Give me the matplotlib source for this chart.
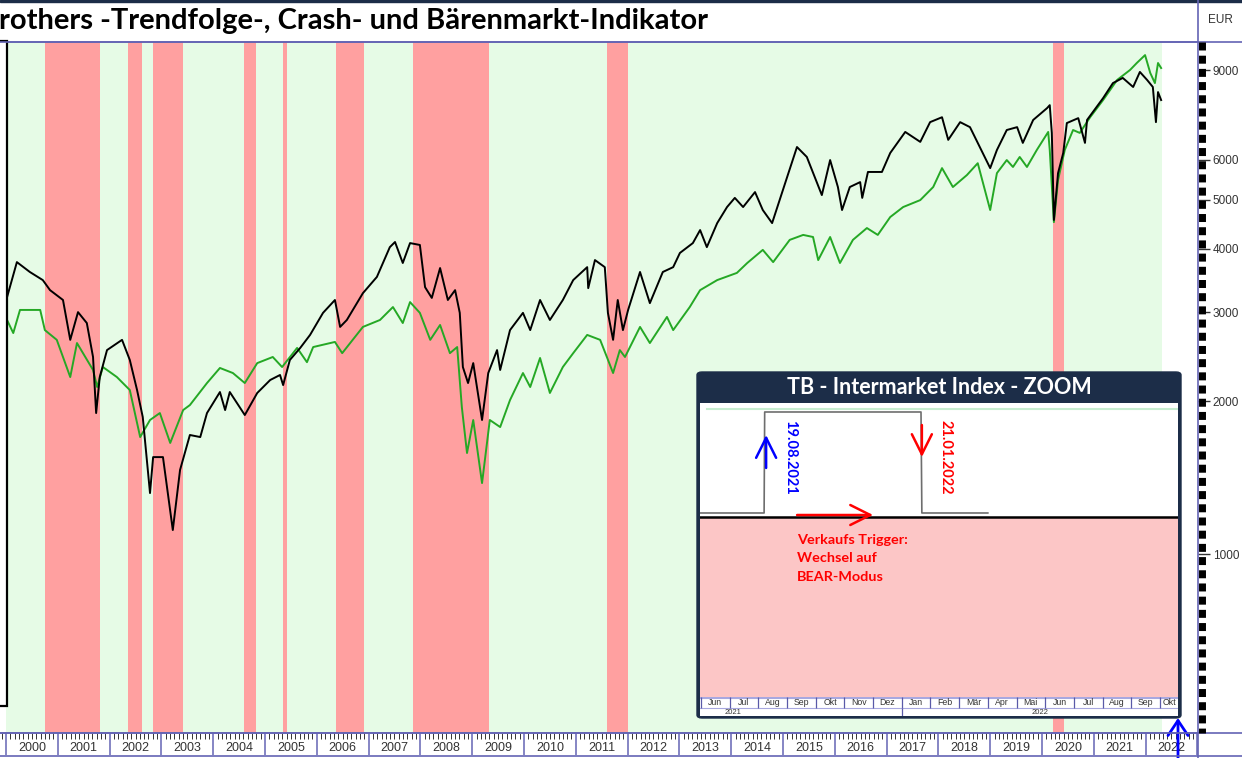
#!/usr/bin/env python3
"""
Trendfolge-/Crash-/Baerenmarkt-Indikator mit ZOOM-Fenster nachbauen
"""

import matplotlib
matplotlib.use('Agg')
import matplotlib.pyplot as plt
import matplotlib.ticker as mticker
import matplotlib.transforms as mtransforms
from matplotlib.patches import Rectangle, FancyBboxPatch
from matplotlib.lines import Line2D

# --- Hauptchart: Index (schwarz) und Vergleichsindex (gruen), EUR, log ---
black_t = [2000.02, 2000.21, 2000.46, 2000.71, 2000.85, 2001.10, 2001.24, 2001.39, 2001.56, 2001.68,
           2001.74, 2001.81, 2001.95, 2002.24, 2002.39, 2002.53, 2002.64, 2002.78, 2002.84, 2003.03,
           2003.22, 2003.36, 2003.55, 2003.75, 2003.88, 2004.13, 2004.23, 2004.32, 2004.61, 2004.85,
           2005.10, 2005.29, 2005.35, 2005.48, 2005.68, 2005.87, 2006.12, 2006.35, 2006.45, 2006.58,
           2006.89, 2007.16, 2007.41, 2007.51, 2007.66, 2007.80, 2007.99, 2008.09, 2008.22, 2008.38,
           2008.53, 2008.67, 2008.76, 2008.82, 2008.92, 2009.02, 2009.19, 2009.31, 2009.48, 2009.54,
           2009.73, 2009.98, 2010.12, 2010.31, 2010.50, 2010.75, 2010.95, 2011.22, 2011.24, 2011.37,
           2011.56, 2011.62, 2011.72, 2011.81, 2011.91, 2012.01, 2012.24, 2012.43, 2012.68, 2012.88,
           2013.01, 2013.26, 2013.40, 2013.53, 2013.73, 2013.92, 2014.07, 2014.23, 2014.46, 2014.61,
           2014.79, 2014.98, 2015.08, 2015.27, 2015.46, 2015.66, 2015.75, 2015.91, 2016.06, 2016.14,
           2016.29, 2016.49, 2016.53, 2016.64, 2016.91, 2017.07, 2017.36, 2017.65, 2017.84, 2018.07,
           2018.19, 2018.42, 2018.61, 2018.80, 2019.00, 2019.13, 2019.32, 2019.52, 2019.63, 2019.83,
           2020.10, 2020.15, 2020.19, 2020.23, 2020.31, 2020.41, 2020.48, 2020.70, 2020.83, 2020.87,
           2021.18, 2021.37, 2021.56, 2021.76, 2021.89, 2022.03, 2022.14, 2022.20, 2022.24, 2022.30]
black_v = [3210, 3765, 3600, 3470, 3315, 3170, 2645, 3000, 2855, 2447,
           1897, 2234, 2525, 2645, 2414, 2106, 1863, 1319, 1553, 1553,
           1115, 1465, 1717, 1701, 1897, 2087, 1923, 2087, 1880, 2078,
           2204, 2255, 2154, 2414, 2550, 2705, 2990, 3170, 2805, 2895,
           3270, 3520, 4030, 4125, 3750, 4105, 4070, 3360, 3200, 3665,
           3170, 3315, 2990, 2338, 2174, 2380, 1838, 2275, 2525, 2307,
           2765, 2990, 2765, 3170, 2895, 3170, 3470, 3680, 3345, 3800,
           3680, 2990, 2645, 3170, 2765, 3030, 3600, 3125, 3600, 3680,
           3925, 4105, 4355, 4030, 4495, 4835, 5040, 4835, 5175, 4770,
           4495, 5150, 5540, 6350, 6070, 5390, 5105, 5985, 5295, 4770,
           5295, 5415, 5040, 5670, 5670, 6180, 6800, 6500, 7110, 7270,
           6560, 7110, 6950, 6350, 5770, 6265, 6860, 6950, 6470, 7180,
           7580, 7680, 6770, 4560, 5640, 6180, 7080, 7240, 6470, 7180,
           7930, 8490, 8690, 8340, 8930, 8610, 8340, 7110, 8150, 7860]

green_t = [2000.02, 2000.14, 2000.27, 2000.66, 2000.75, 2000.98, 2001.24, 2001.37, 2001.68, 2001.76,
           2001.87, 2002.14, 2002.39, 2002.59, 2002.78, 2002.97, 2003.17, 2003.42, 2003.55, 2003.88,
           2004.13, 2004.38, 2004.61, 2004.85, 2005.15, 2005.33, 2005.62, 2005.81, 2005.93, 2006.35,
           2006.49, 2006.89, 2007.22, 2007.47, 2007.66, 2007.80, 2007.99, 2008.19, 2008.38, 2008.57,
           2008.71, 2008.80, 2008.90, 2009.02, 2009.19, 2009.34, 2009.54, 2009.73, 2009.98, 2010.12,
           2010.31, 2010.50, 2010.75, 2010.95, 2011.22, 2011.47, 2011.60, 2011.72, 2011.85, 2011.95,
           2012.24, 2012.43, 2012.76, 2012.88, 2013.20, 2013.40, 2013.73, 2014.11, 2014.31, 2014.61,
           2014.81, 2015.13, 2015.39, 2015.58, 2015.68, 2015.91, 2016.10, 2016.35, 2016.62, 2016.83,
           2017.07, 2017.32, 2017.65, 2017.90, 2018.07, 2018.28, 2018.55, 2018.76, 2019.00, 2019.13,
           2019.32, 2019.44, 2019.57, 2019.71, 2019.90, 2020.12, 2020.15, 2020.23, 2020.31, 2020.44,
           2020.60, 2020.73, 2020.93, 2021.18, 2021.45, 2021.70, 2021.83, 2021.99, 2022.09, 2022.18,
           2022.24, 2022.30]
green_v = [2895, 2728, 3030, 3030, 2765, 2645, 2234, 2607, 2307, 2135,
           2338, 2234, 2106, 1701, 1838, 1897, 1656, 1923, 1967, 2174,
           2328, 2275, 2174, 2380, 2447, 2338, 2550, 2390, 2560, 2620,
           2490, 2805, 2895, 3070, 2855, 3140, 2990, 2645, 2830, 2490,
           2560, 1949, 1582, 1838, 1380, 1838, 1780, 2012, 2275, 2135,
           2436, 2078, 2338, 2490, 2705, 2645, 2447, 2275, 2525, 2447,
           2805, 2607, 2935, 2765, 3070, 3315, 3470, 3585, 3750, 3980,
           3765, 4165, 4260, 4220, 3800, 4220, 3750, 4165, 4395, 4260,
           4620, 4835, 4990, 5295, 5770, 5295, 5590, 5900, 4770, 5640,
           5985, 5800, 6070, 5800, 6265, 6800, 6265, 4515, 5465, 6265,
           6860, 6770, 7270, 7860, 8610, 9010, 9300, 9640, 8890, 8490,
           9300, 9090]

# Baerenmarkt-Phasen (rot), sonst Trendfolge (gruen)
bear_start = [2000.75, 2002.36, 2002.84, 2004.59, 2005.35, 2006.37, 2007.86, 2011.60, 2020.21]
bear_end = [2001.81, 2002.63, 2003.42, 2004.83, 2005.42, 2006.91, 2009.32, 2012.01, 2020.42]
data_start, data_end = 2000.0, 2022.32

years = list(range(2000, 2023))
y_ticks = [1000, 2000, 3000, 4000, 5000, 6000, 9000]

# --- ZOOM: Intermarket Index (Monate ab Juni 2021) ---
inset_months = ['Jun', 'Jul', 'Aug', 'Sep', 'Okt', 'Nov', 'Dez', 'Jan', 'Feb',
                'Mär', 'Apr', 'Mai', 'Jun', 'Jul', 'Aug', 'Sep', 'Okt']
inset_years = ['2021', '2022']
signal_t = [-0.05, 2.20, 2.22, 7.67, 7.70, 10.0]
signal_v = [0, 0, 1, 1, 0, 0]
trigger_level = -0.04
upper_level = 1.03
buy_date = '19.08.2021'
sell_date = '21.01.2022'
sell_text = 'Verkaufs Trigger:\nWechsel auf\nBEAR-Modus'

# --- Layout in Pixeln ---
W, H = 1242, 758


def fx(px):
    return px / W


def fy(py):
    return 1 - py / H


def rect(x0, y0, x1, y1):
    return [fx(x0), fy(y1), (x1 - x0) / W, (y1 - y0) / H]


TITLE_FONT = ['Lato', 'DejaVu Sans']
AXIS_FONT = ['Liberation Sans Narrow', 'Liberation Sans', 'DejaVu Sans']
FRAME = '#6464b4'
NAVY = '#1c2d48'

fig = plt.figure(figsize=(W / 100, H / 100), dpi=100)
fig.patch.set_facecolor('white')

# Hauptchart
ax = fig.add_axes(rect(0, 42, 1198, 733))
ax.set_yscale('log')
ax.set_xlim(1999.884, 2023.012)
ax.set_ylim(443.6, 10231)
ax.axvspan(data_start, data_end, color='#e6fbe6', lw=0, zorder=0)
for s, e in zip(bear_start, bear_end):
    ax.axvspan(s, e, color='#ffa0a0', lw=0, zorder=1)
ax.plot(green_t, green_v, color='#25a825', lw=1.4, zorder=3)
ax.plot(black_t, black_v, color='black', lw=1.4, zorder=4)

for side in ['left', 'right']:
    ax.spines[side].set_visible(False)
for side in ['top', 'bottom']:
    ax.spines[side].set_color(FRAME)
    ax.spines[side].set_linewidth(1.2)

# rechte Skala
ax.yaxis.tick_right()
ax.yaxis.set_major_locator(mticker.FixedLocator(y_ticks))
ax.yaxis.set_major_formatter(mticker.FixedFormatter([str(v) for v in y_ticks]))
ax.yaxis.set_minor_locator(mticker.NullLocator())
ax.tick_params(axis='y', which='major', direction='out', length=8.5, width=1,
               color='#333333', pad=2, labelsize=8.5, labelcolor='#333333')
for lbl in ax.get_yticklabels():
    lbl.set_family(AXIS_FONT)

# Zeitachse: Jahresgrenzen + Monatsstriche
ax.xaxis.set_major_locator(mticker.FixedLocator(years + [years[-1] + 1]))
ax.xaxis.set_major_formatter(mticker.NullFormatter())
ax.xaxis.set_minor_locator(mticker.MultipleLocator(1 / 12))
ax.tick_params(axis='x', which='major', direction='out', length=16, width=1.1, color=FRAME)
ax.tick_params(axis='x', which='minor', direction='out', length=4.5, width=0.7, color='#333333')
trans = mtransforms.blended_transform_factory(ax.transData, ax.transAxes)
for yr in years:
    ax.text(yr + 0.5, -0.022, str(yr), transform=trans, ha='center', va='center',
            fontsize=9, color='#333333', family=AXIS_FONT, clip_on=False)

# Rahmenlinien
fig.add_artist(Rectangle((0, fy(2)), 1, 2 / H, color=NAVY, transform=fig.transFigure, zorder=6))
fig.add_artist(Line2D([fx(1198)] * 2, [0, 1], color=FRAME, lw=1.2, zorder=6))
for py in [42, 733, 756]:
    fig.add_artist(Line2D([0, 1], [fy(py)] * 2, color=FRAME, lw=1.2, zorder=6))
fig.add_artist(Line2D([fx(1201.5)] * 2, [fy(42), fy(733)], color='black', lw=5,
                      linestyle=(0, (1.15, 0.75)), zorder=6))

# linker Kasten (abgeschnitten)
fig.add_artist(Rectangle((fx(-10), fy(706)), fx(17), (706 - 41) / H, facecolor='white',
                         edgecolor='black', lw=1.6, transform=fig.transFigure, zorder=2))

# Titel
fig.text(fx(-1), fy(21), 'rothers -Trendfolge-, Crash- und Bärenmarkt-Indikator',
         fontsize=21, fontweight='bold', family=TITLE_FONT, ha='left', va='center')
fig.text(fx(1220), fy(20), 'EUR', fontsize=8.5, color='#333333', family=AXIS_FONT,
         ha='center', va='center')

# --- ZOOM-Fenster ---
fig.add_artist(FancyBboxPatch((fx(697), fy(718)), (1181 - 697) / W, (718 - 372) / H,
                              boxstyle='round,pad=0,rounding_size=0.004', facecolor=NAVY,
                              edgecolor=NAVY, lw=1, transform=fig.transFigure, zorder=3))
fig.text(fx(939), fy(388), 'TB - Intermarket Index - ZOOM', color='white', fontsize=15.5,
         fontweight='bold', family=TITLE_FONT, ha='center', va='center', zorder=7)

xmax = 16.63
ax_in = fig.add_axes(rect(700, 403, 1178, 697), zorder=4)
ax_in.set_xlim(-0.035, xmax)
ax_in.set_ylim(-1.822, 1.089)
ax_in.set_facecolor('white')
ax_in.axhspan(-1.822, trigger_level, color='#fcc6c6', lw=0)
ax_in.axhline(trigger_level, color='black', lw=1.8)
ax_in.axhline(upper_level, xmin=0.015, color='#c6ecd0', lw=1.5)
ax_in.plot(signal_t, signal_v, color='#6e6e6e', lw=1.2)
ax_in.set_xticks([])
ax_in.set_yticks([])
for sp in ax_in.spines.values():
    sp.set_visible(False)

arrow = '->,head_length=0.6,head_width=0.3'
ax_in.annotate('', xy=(2.27, 0.772), xytext=(2.27, 0.446),
               arrowprops=dict(arrowstyle=arrow, color='blue', lw=1.8, mutation_scale=24,
                               shrinkA=0, shrinkB=0))
ax_in.annotate('', xy=(7.70, 0.554), xytext=(7.70, 0.871),
               arrowprops=dict(arrowstyle=arrow, color='red', lw=1.8, mutation_scale=24,
                               shrinkA=0, shrinkB=0))
ax_in.annotate('', xy=(6.0, -0.02), xytext=(3.35, -0.02),
               arrowprops=dict(arrowstyle=arrow, color='red', lw=1.8, mutation_scale=24,
                               shrinkA=0, shrinkB=0))
ax_in.text(3.10, 0.55, buy_date, rotation=270, color='blue', fontsize=10.5, fontweight='bold',
           family=TITLE_FONT, ha='center', va='center')
ax_in.text(8.54, 0.55, sell_date, rotation=270, color='red', fontsize=10.5, fontweight='bold',
           family=TITLE_FONT, ha='center', va='center')
ax_in.text(3.35, -0.21, sell_text, color='red', fontsize=10.4, fontweight='bold',
           family=TITLE_FONT, ha='left', va='top', linespacing=1.62)

# Monats-/Jahresleiste
ax_m = fig.add_axes(rect(700, 697, 1178, 716), zorder=4)
ax_m.set_xlim(-0.035, xmax)
ax_m.set_ylim(0, 1)
ax_m.set_facecolor('white')
ax_m.set_xticks([])
ax_m.set_yticks([])
for sp in ax_m.spines.values():
    sp.set_visible(False)
ax_m.axhline(0.97, color='#a8a8e0', lw=1.5)
ax_m.axhline(0.42, color='#a8a8e0', lw=0.8)
ax_m.vlines(range(len(inset_months)), 0.42, 1, color='#5a5aa8', lw=0.9)
for i, name in enumerate(inset_months):
    ax_m.text(min(i + 0.5, (i + xmax) / 2), 0.70, name, fontsize=6.3, color='#333333',
              family=AXIS_FONT, ha='center', va='center')
jan = inset_months.index('Jan')
ax_m.vlines([jan], 0, 0.42, color='#5a5aa8', lw=0.9)
for pos, name in zip([1.1, (jan + xmax) / 2], inset_years):
    ax_m.text(pos, 0.2, name, fontsize=5.5, color='#333333', family=AXIS_FONT,
              ha='center', va='center')

# blauer Pfeil unten rechts
ax.annotate('', xy=(fx(1178), fy(718)), xytext=(fx(1178), fy(762)),
            xycoords='figure fraction', textcoords='figure fraction', annotation_clip=False,
            arrowprops=dict(arrowstyle='->,head_length=0.45,head_width=0.3', color='blue',
                            lw=2, mutation_scale=24, shrinkA=0, shrinkB=0), zorder=8)

fig.savefig('out.png', dpi=100)
